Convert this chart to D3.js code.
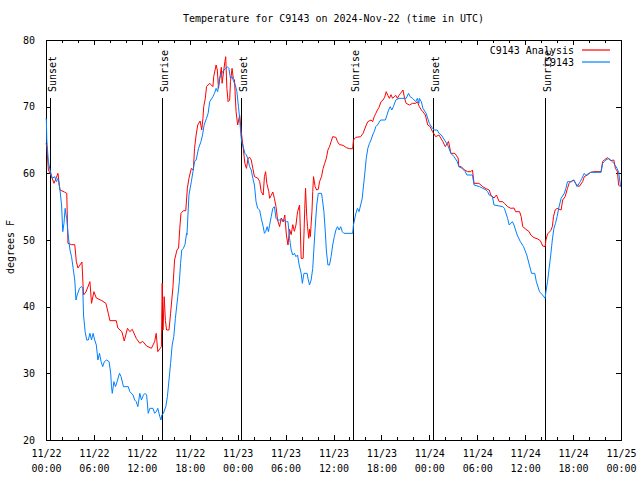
<!DOCTYPE html>
<html>
<head>
<meta charset="utf-8">
<script src="https://cdn.jsdelivr.net/npm/d3@7"></script>
<style>
  html, body { margin: 0; padding: 0; background: #fff; }
  svg { display: block; }
  text { font-family: "DejaVu Sans Mono", "Liberation Mono", monospace; font-size: 10px; fill: #000; }
</style>
</head>
<body>
<svg id="chart" width="640" height="480"></svg>
<script>
// ---------------- DATA ----------------
const titleText = "Temperature for C9143 on 2024-Nov-22 (time in UTC)";
const yAxisLabel = "degrees F";
const seriesNames = ["C9143 Analysis", "C9143"];

// x values are hours since 11/22 00:00 UTC
const majorTickHours = [0, 6, 12, 18, 24, 30, 36, 42, 48, 54, 60, 66, 72];
const tickDayLabels = ["11/22","11/22","11/22","11/22","11/23","11/23","11/23","11/23","11/24","11/24","11/24","11/24","11/25"];
const tickTimeLabels = ["00:00","06:00","12:00","18:00","00:00","06:00","12:00","18:00","00:00","06:00","12:00","18:00","00:00"];
const yTickValues = [20, 30, 40, 50, 60, 70, 80];

const sunEventHours = [0.5, 14.5, 24.45, 38.5, 48.4, 62.5];
const sunEventLabels = ["Sunset", "Sunrise", "Sunset", "Sunrise", "Sunset", "Sunrise"];

const analysisHours = [0.0,0.1,0.3,0.7,1.0,1.5,1.75,2.3,2.6,2.75,3.2,3.6,3.8,4.0,4.5,4.7,5.0,5.5,5.7,6.0,6.3,7.0,7.5,7.8,8.0,8.8,9.0,9.5,9.8,10.2,10.5,10.8,11.3,11.75,12.1,12.6,13.2,13.6,13.8,14.0,14.3,14.45,14.55,14.65,14.8,14.95,15.1,15.4,15.6,15.9,16.1,16.4,16.6,16.75,16.9,17.2,17.5,17.7,17.9,18.2,18.45,18.6,18.8,19.0,19.3,19.5,19.65,19.75,19.95,20.1,20.5,20.9,21.0,21.3,21.45,21.6,21.95,22.05,22.4,22.5,22.65,22.8,23.0,23.1,23.3,23.45,23.6,23.8,24.0,24.25,24.45,24.7,24.9,25.1,25.3,25.5,25.7,25.9,26.1,26.5,26.75,26.95,27.2,27.35,27.5,27.65,27.9,28.0,28.2,28.4,28.6,28.8,29.0,29.25,29.45,29.7,29.9,30.1,30.3,30.5,30.7,30.9,31.1,31.3,31.5,31.75,31.85,31.95,32.2,32.3,32.4,32.5,32.65,32.75,32.9,33.0,33.1,33.2,33.3,33.4,33.5,33.7,33.9,34.1,34.25,34.5,34.7,34.9,35.1,35.3,35.5,35.7,35.9,36.3,36.5,36.75,37.2,37.6,38.0,38.4,38.5,38.8,39.4,39.7,40.1,40.3,40.7,40.9,41.1,41.3,41.5,41.7,41.95,42.2,42.4,42.6,42.8,43.0,43.2,43.4,43.6,43.8,44.0,44.2,44.4,44.7,44.9,45.1,45.5,45.9,46.3,46.5,46.75,47.0,47.2,47.5,47.8,48.1,48.4,48.8,49.2,49.7,50.0,50.4,50.7,51.2,51.6,51.7,52.0,52.4,52.8,53.2,53.4,53.6,54.2,54.7,55.1,55.5,55.7,56.1,56.4,56.75,57.2,57.4,57.8,58.2,58.6,58.8,59.3,59.5,59.7,60.1,60.5,60.7,61.1,61.5,61.9,62.2,62.5,62.6,62.8,63.2,63.4,63.55,63.75,64.0,64.5,64.7,65.0,65.3,65.5,65.7,66.1,66.3,66.75,67.2,67.4,67.8,68.2,68.6,69.5,69.7,69.9,70.3,70.7,71.1,71.3,71.55,71.7,71.9];
const analysisTemps = [64.5,64.0,60.5,59.5,58.5,60.0,57.5,57.2,57.0,49.5,49.3,49.3,46.75,45.8,46.7,41.75,42.2,43.75,40.5,42.25,41.3,40.9,40.5,39.0,37.9,37.9,36.8,36.25,34.85,36.75,36.25,36.6,35.25,34.5,34.8,34.1,33.75,34.75,36.0,33.25,33.75,34.0,43.5,36.5,41.5,37.9,36.5,36.5,39.0,43.0,47.0,48.5,48.8,51.75,54.0,54.4,54.4,57.75,59.25,60.75,60.5,63.75,65.75,67.25,67.85,66.5,68.25,70.0,71.25,73.0,73.5,73.0,74.5,76.25,75.5,72.75,75.9,73.5,76.75,77.5,72.75,70.75,71.0,73.75,75.75,74.25,74.0,69.25,67.25,68.75,66.25,63.75,61.5,60.75,62.25,62.4,62.0,60.75,59.5,59.3,58.8,57.25,56.75,59.5,60.25,58.5,57.25,56.25,56.7,57.2,56.25,55.0,53.0,52.0,53.3,52.7,53.75,50.75,49.25,51.6,50.8,52.3,51.3,52.25,54.25,55.25,51.5,47.25,47.25,50.75,54.75,57.75,53.5,52.0,50.25,51.6,50.5,52.4,54.25,57.25,59.5,58.0,57.5,57.6,58.75,59.5,60.75,61.5,62.25,63.5,64.0,64.75,65.5,65.4,64.75,64.3,64.2,63.85,63.7,63.7,65.0,65.4,65.5,66.0,67.25,67.75,68.0,67.75,68.5,69.0,69.5,69.9,70.75,71.0,71.4,72.25,71.7,71.25,71.8,71.25,71.5,71.7,71.25,71.7,72.0,72.5,71.25,70.5,70.25,70.5,70.5,70.75,70.0,69.5,69.25,68.75,67.25,67.0,66.25,65.5,65.75,64.75,64.0,64.8,63.0,63.0,62.3,61.0,61.0,60.5,60.25,60.25,60.5,58.5,58.5,58.0,57.7,57.5,56.75,56.3,56.75,55.75,55.75,55.5,55.0,54.75,54.8,54.25,54.25,53.5,52.0,51.6,51.25,50.75,50.35,50.2,49.9,49.1,49.0,50.0,50.9,51.4,52.0,53.5,54.5,54.75,54.5,56.0,56.5,57.75,58.5,58.75,59.0,58.5,58.0,58.75,59.5,59.75,60.15,60.25,60.25,61.75,62.0,62.35,61.9,62.0,60.75,60.25,58.25,58.0];

const stationHours = [0.0,0.05,0.1,0.3,0.5,0.8,1.1,1.3,1.5,1.75,1.95,2.1,2.25,2.4,2.5,2.6,2.75,3.0,3.2,3.4,3.6,3.75,3.9,4.2,4.4,4.6,4.7,4.9,5.1,5.3,5.5,5.7,5.9,6.1,6.3,6.5,6.7,6.9,7.1,7.3,7.6,7.9,8.1,8.2,8.3,8.5,8.7,8.9,9.2,9.4,9.7,10.3,10.5,10.9,11.1,11.3,11.5,11.75,11.95,12.2,12.4,12.6,12.8,13.0,13.4,13.6,13.8,14.0,14.25,14.4,14.5,14.7,15.0,15.2,15.4,15.6,15.8,16.0,16.2,16.5,16.7,16.85,17.0,17.2,17.4,17.6,17.65,17.9,18.2,18.4,18.6,18.8,19.1,19.4,19.6,19.8,20.1,20.3,20.5,20.9,21.1,21.3,21.5,21.7,21.9,22.1,22.5,22.7,22.9,23.1,23.3,23.5,23.7,23.9,24.1,24.25,24.4,24.5,24.7,24.9,25.1,25.25,25.5,25.7,25.9,26.1,26.3,26.5,26.75,26.95,27.2,27.35,27.5,27.7,27.85,28.0,28.2,28.4,28.6,28.8,29.0,29.25,29.7,30.1,30.3,30.5,30.7,30.9,31.1,31.3,31.5,31.7,31.95,32.1,32.3,32.7,32.8,33.0,33.2,33.4,33.5,33.7,33.9,34.1,34.5,34.6,34.8,35.0,35.1,35.3,35.5,35.7,35.9,36.1,36.3,36.5,36.7,36.9,37.1,37.3,37.7,38.4,38.5,38.8,39.0,39.2,39.4,39.6,39.7,39.9,40.1,40.3,40.5,40.7,40.9,41.1,41.3,41.5,41.9,42.5,42.7,42.9,43.1,43.3,43.5,43.8,44.2,44.7,45.1,45.4,45.6,45.9,46.1,46.3,46.5,46.7,46.75,47.0,47.2,47.6,48.0,48.4,48.6,49.0,49.2,49.5,49.9,50.3,50.7,51.1,51.5,51.7,52.1,52.5,52.7,53.4,53.6,54.3,54.7,55.1,55.3,55.5,55.9,56.1,57.2,57.4,57.8,58.0,58.4,58.6,59.0,59.4,59.8,60.2,60.8,61.2,61.4,61.8,62.1,62.5,62.6,62.8,63.0,63.2,63.4,63.6,63.8,64.0,64.2,64.5,64.9,65.1,65.3,65.8,66.1,66.3,66.5,66.9,67.1,67.4,67.6,68.2,69.5,69.7,69.9,70.1,70.5,70.9,71.1,71.5,71.7,71.95];
const stationTemps = [68.25,68.0,65.0,61.75,60.5,59.25,59.5,58.75,59.25,57.5,55.25,51.25,52.5,54.75,53.75,53.25,51.0,48.5,47.5,45.75,44.0,41.0,41.75,42.75,43.0,42.9,38.75,36.25,35.0,35.0,36.0,35.0,36.0,35.0,34.25,32.0,33.0,31.75,31.0,31.75,32.0,31.75,30.0,28.0,27.0,28.75,28.0,28.75,30.0,29.5,28.0,28.0,27.25,26.75,26.0,25.75,25.0,27.0,26.0,26.75,27.0,26.75,24.0,24.75,24.75,24.0,24.25,24.75,23.5,23.0,23.75,24.0,25.0,26.5,29.0,31.5,34.25,35.5,38.25,41.5,43.75,46.5,48.5,48.75,49.3,51.0,50.75,56.75,58.75,60.25,61.75,62.0,63.75,64.75,65.75,67.25,68.25,69.0,70.75,71.5,72.0,72.75,72.25,74.25,74.6,75.25,75.75,76.0,75.75,74.25,74.5,73.75,73.3,72.25,70.0,68.25,65.75,64.75,64.0,63.0,62.75,62.25,61.0,60.5,59.25,58.25,55.75,54.75,54.5,53.25,52.0,51.0,51.25,52.0,51.25,52.25,53.5,54.75,55.0,53.25,53.0,53.0,53.0,52.75,52.75,50.25,48.5,47.75,48.0,47.5,47.75,46.25,45.0,43.5,45.0,45.0,44.25,43.25,44.0,45.75,47.75,51.75,55.25,57.0,57.0,56.2,54.25,50.75,48.5,46.25,46.25,47.5,49.25,50.5,51.5,52.0,51.5,52.0,51.25,51.0,51.0,51.0,52.25,54.0,54.75,54.25,55.25,56.25,57.5,59.75,62.25,63.75,64.5,65.0,65.75,66.25,67.0,67.25,68.0,68.0,68.75,69.5,70.0,69.5,70.0,71.0,71.25,71.25,71.25,72.0,71.5,71.25,71.0,70.75,71.25,70.5,71.25,70.75,69.75,69.0,67.5,66.75,66.5,66.5,66.0,65.75,65.0,64.25,63.0,62.5,61.75,61.0,60.75,60.25,59.75,59.75,58.25,58.0,57.75,57.5,57.25,56.75,56.5,55.25,55.0,54.75,53.25,52.25,52.75,52.25,50.75,49.75,49.0,47.75,45.0,45.0,43.75,42.25,41.85,41.25,42.25,43.75,45.75,47.75,50.0,51.75,52.5,53.5,54.75,56.25,57.0,57.75,58.75,58.75,59.0,58.5,58.0,58.75,59.25,60.0,59.7,60.15,60.15,61.5,61.75,62.0,62.25,61.75,61.5,60.75,60.2,58.0];

const seriesColors = ["#ff0000", "#0080ff"];

// ---------------- LAYOUT ----------------
const svg = d3.select("#chart");
const plotLeft = 46, plotRight = 621, plotTop = 40, plotBottom = 440;

const x = d3.scaleLinear().domain([0, 72]).range([plotLeft, plotRight]);
const y = d3.scaleLinear().domain([20, 80]).range([plotBottom, plotTop]);

const minorTickHours = d3.range(0, 73, 2).filter(h => h % 6 !== 0);

// title
svg.append("text")
  .attr("x", (plotLeft + plotRight) / 2).attr("y", 22)
  .attr("text-anchor", "middle")
  .text(titleText);

// y axis label
svg.append("text")
  .attr("transform", "translate(14,247) rotate(-90)")
  .attr("text-anchor", "middle")
  .text(yAxisLabel);

function styleAxis(g) {
  g.select(".domain").remove();
  g.selectAll(".tick line").attr("stroke", "#000").attr("shape-rendering", "crispEdges");
  g.attr("font-family", null).attr("font-size", null);
  g.selectAll(".tick text").attr("fill", "#000");
}

// bottom major ticks + labels
const gx = svg.append("g")
  .attr("transform", "translate(0," + plotBottom + ")")
  .call(d3.axisBottom(x).tickValues(majorTickHours).tickSize(-5).tickFormat((d, i) => tickDayLabels[i]))
  .call(styleAxis);
gx.selectAll(".tick text").each(function(d, i) {
  const t = d3.select(this);
  t.text(null).attr("y", 17).attr("dy", null);
  t.append("tspan").attr("x", 0).attr("dy", 0).text(tickDayLabels[i]);
  t.append("tspan").attr("x", 0).attr("dy", 15).text(tickTimeLabels[i]);
});
// bottom minor ticks
svg.append("g").attr("transform", "translate(0," + plotBottom + ")")
  .call(d3.axisBottom(x).tickValues(minorTickHours).tickSize(-3).tickFormat(""))
  .call(styleAxis);
// top ticks (mirrored)
svg.append("g").attr("transform", "translate(0," + plotTop + ")")
  .call(d3.axisTop(x).tickValues(majorTickHours).tickSize(-5).tickFormat(""))
  .call(styleAxis);
svg.append("g").attr("transform", "translate(0," + plotTop + ")")
  .call(d3.axisTop(x).tickValues(minorTickHours).tickSize(-3).tickFormat(""))
  .call(styleAxis);

// left y axis
svg.append("g").attr("transform", "translate(" + plotLeft + ",0)")
  .call(d3.axisLeft(y).tickValues(yTickValues).tickSize(-5).tickPadding(11).tickFormat(d3.format("d")))
  .call(styleAxis);
// right mirrored ticks
svg.append("g").attr("transform", "translate(" + plotRight + ",0)")
  .call(d3.axisRight(y).tickValues(yTickValues).tickSize(-5).tickFormat(""))
  .call(styleAxis);

// border
svg.append("rect")
  .attr("x", plotLeft + 0.5).attr("y", plotTop + 0.5)
  .attr("width", plotRight - plotLeft).attr("height", plotBottom - plotTop)
  .attr("fill", "none").attr("stroke", "#000").attr("stroke-width", 1)
  .attr("shape-rendering", "crispEdges");

// sunrise / sunset markers
const sun = svg.append("g");
sunEventHours.forEach((h, i) => {
  const sx = Math.round(x(h)) + 0.5;
  sun.append("line")
    .attr("x1", sx).attr("x2", sx)
    .attr("y1", 98).attr("y2", plotBottom)
    .attr("stroke", "#000").attr("stroke-width", 1)
    .attr("shape-rendering", "crispEdges");
  sun.append("text")
    .attr("transform", "translate(" + (sx + 5) + ",92) rotate(-90)")
    .attr("text-anchor", "start")
    .text(sunEventLabels[i]);
});

// series lines
const line = d3.line().x(d => x(d[0])).y(d => y(d[1]));
const analysisData = analysisHours.map((h, i) => [h, analysisTemps[i]]);
const stationData = stationHours.map((h, i) => [h, stationTemps[i]]);

svg.append("path").datum(analysisData)
  .attr("d", line).attr("fill", "none")
  .attr("stroke", seriesColors[0]).attr("stroke-width", 1);
svg.append("path").datum(stationData)
  .attr("d", line).attr("fill", "none")
  .attr("stroke", seriesColors[1]).attr("stroke-width", 1);

// legend
const legendY = [50, 62];
const legend = svg.append("g");
seriesNames.forEach((name, i) => {
  legend.append("text")
    .attr("x", 574).attr("y", legendY[i] + 3.5)
    .attr("text-anchor", "end")
    .text(name);
  legend.append("path")
    .attr("d", "M582," + legendY[i] + "H610")
    .attr("fill", "none")
    .attr("stroke", seriesColors[i]).attr("stroke-width", 1.2);
});
</script>
</body>
</html>
